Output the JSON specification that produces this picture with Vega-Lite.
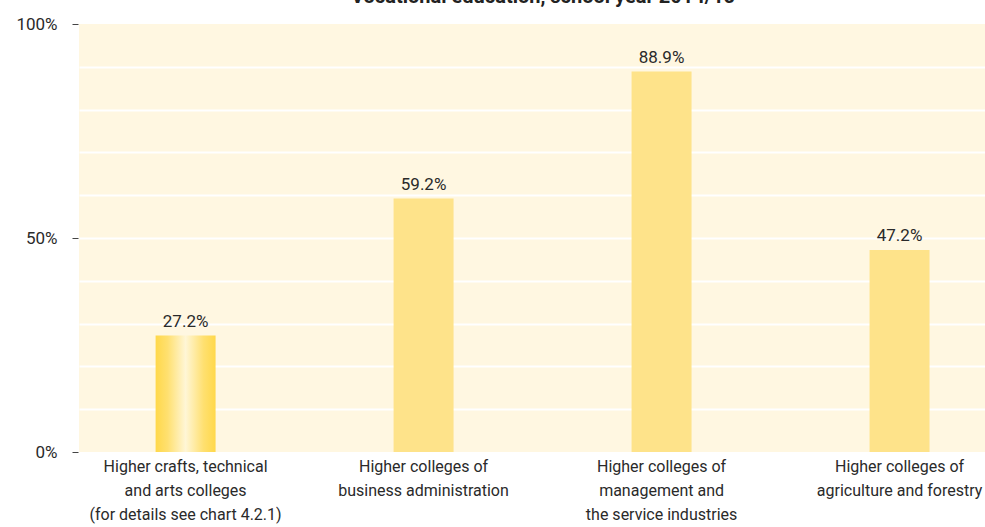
{
  "$schema": "https://vega.github.io/schema/vega-lite/v6.json",
  "width": 906,
  "height": 428,
  "autosize": "none",
  "padding": {"left": 79, "top": 24, "right": 0, "bottom": 75},
  "background": "#ffffff",
  "title": {
    "text": "Vocational education, school year 2014/15",
    "font": "Roboto, sans-serif",
    "fontSize": 20,
    "fontWeight": "bold",
    "color": "#222222",
    "baseline": "alphabetic",
    "frame": "group",
    "offset": 0,
    "dy": 8,
    "dx": 11
  },
  "config": {
    "view": {"fill": "#FFF7E1", "stroke": null},
    "font": "Roboto, sans-serif"
  },
  "data": {
    "values": [
      {"category": "Higher crafts, technical|and arts colleges|(for details see chart 4.2.1)", "value": 27.2, "special": true},
      {"category": "Higher colleges of|business administration", "value": 59.2, "special": false},
      {"category": "Higher colleges of|management and|the service industries", "value": 88.9, "special": false},
      {"category": "Higher colleges of|agriculture and forestry", "value": 47.2, "special": false}
    ]
  },
  "encoding": {
    "x": {
      "field": "category",
      "type": "nominal",
      "sort": [
        "Higher crafts, technical|and arts colleges|(for details see chart 4.2.1)",
        "Higher colleges of|business administration",
        "Higher colleges of|management and|the service industries",
        "Higher colleges of|agriculture and forestry"
      ],
      "scale": {"paddingInner": 0.748, "paddingOuter": 0.2775, "align": 0.58},
      "axis": {
        "title": null,
        "labelAngle": 0,
        "domain": false,
        "ticks": false,
        "labelPadding": 6,
        "labelFontSize": 16,
        "labelLineHeight": 24,
        "labelLimit": 0,
        "labelColor": "#2a2a2a",
        "labelExpr": "split(datum.label, '|')"
      }
    },
    "y": {
      "field": "value",
      "type": "quantitative",
      "scale": {"domain": [0, 100], "nice": false},
      "axis": {
        "title": null,
        "values": [0, 10, 20, 30, 40, 50, 60, 70, 80, 90, 100],
        "labelExpr": "datum.value % 50 === 0 ? datum.value + '%' : ''",
        "domain": false,
        "offset": 1,
        "tickSize": 6,
        "tickColor": "#444444",
        "tickOpacity": {"condition": {"test": "datum.value % 50 === 0", "value": 1}, "value": 0},
        "labelPadding": 15,
        "labelFontSize": 17,
        "labelColor": "#2a2a2a",
        "grid": true,
        "gridColor": "#ffffff",
        "gridWidth": 2,
        "gridOpacity": {"condition": {"test": "datum.value === 0 || datum.value === 100", "value": 0}, "value": 1}
      }
    }
  },
  "layer": [
    {
      "transform": [{"filter": "!datum.special"}],
      "mark": {"type": "bar", "color": "#FEE38A"}
    },
    {
      "transform": [{"filter": "datum.special"}],
      "mark": {
        "type": "bar",
        "color": {
          "gradient": "linear",
          "x1": 0, "y1": 0, "x2": 1, "y2": 0,
          "stops": [
            {"offset": 0, "color": "#FFD84A"},
            {"offset": 0.2, "color": "#FFE070"},
            {"offset": 0.5, "color": "#FFF6D6"},
            {"offset": 0.8, "color": "#FFE070"},
            {"offset": 1, "color": "#FFD84A"}
          ]
        }
      }
    },
    {
      "mark": {
        "type": "text",
        "baseline": "alphabetic",
        "dy": -9,
        "fontSize": 17,
        "color": "#2a2a2a",
        "text": {"expr": "format(datum.value, '.1f') + '%'"}
      }
    }
  ]
}
